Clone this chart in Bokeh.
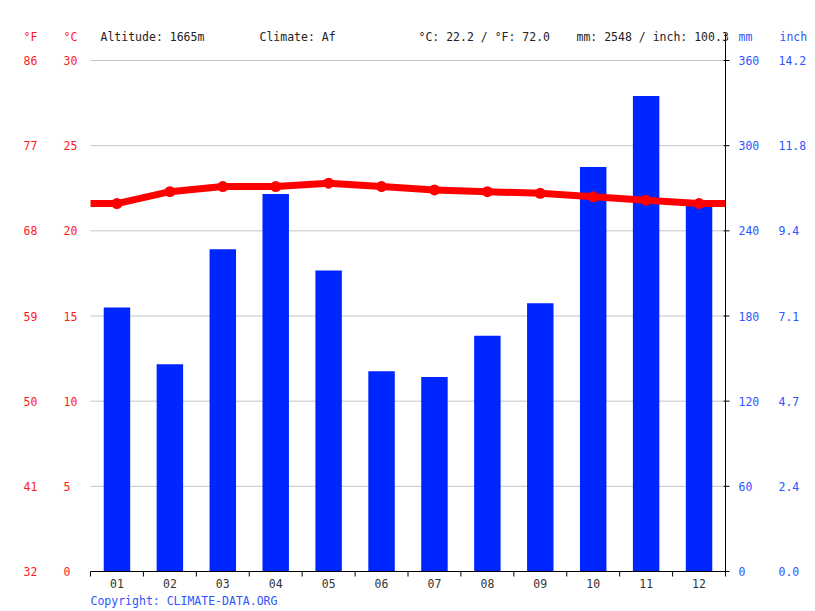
from bokeh.plotting import figure
from bokeh.models import Range1d
from bokeh.core.properties import value
from bokeh.embed import file_html
from bokeh.resources import INLINE
import numpy as np

# data
months = ["01", "02", "03", "04", "05", "06", "07", "08", "09", "10", "11", "12"]
temp_c = [21.6, 22.3, 22.6, 22.6, 22.8, 22.6, 22.4, 22.3, 22.2, 22.0, 21.8, 21.6]
precip_mm = [186, 146, 227, 266, 212, 141, 137, 166, 189, 285, 335, 258]

c_ticks = [0, 5, 10, 15, 20, 25, 30]
f_labels = ["32", "41", "50", "59", "68", "77", "86"]
mm_ticks = [0, 60, 120, 180, 240, 300, 360]
inch_labels = ["0.0", "2.4", "4.7", "7.1", "9.4", "11.8", "14.2"]

header_left = ["°F", "°C"]
header_mid = ["Altitude: 1665m", "Climate: Af", "°C: 22.2 / °F: 72.0", "mm: 2548 / inch: 100.3"]
header_right = ["mm", "inch"]
copyright = "Copyright: CLIMATE-DATA.ORG"

MONO = value("DejaVu Sans Mono")
RED = "#ff1a1a"
BLUE = "#2e55ff"
FS = value("11.5px")

# canvas size and plot box (pixels)
W, H = 815, 611
PL, PR, PT, PB = 90, 725, 60, 571
sx = (PR - PL) / 12.0        # px per month
sy = (PB - PT) / 30.0        # px per degC

p = figure(width=W, height=H, min_border=0,
           x_range=Range1d(-PL / sx, 12 + (W - PR) / sx),
           y_range=Range1d(-(H - PB) / sy, 30 + PT / sy),
           x_axis_location=None, y_axis_location=None,
           output_backend="svg", toolbar_location=None)
p.outline_line_color = None
p.grid.visible = False
ymin, ymax = p.y_range.start, p.y_range.end
p.extra_y_ranges = {"mm": Range1d(ymin * 12, ymax * 12)}

def px_x(px):   # canvas x pixel -> month units
    return (px - PL) / sx

def px_y(px):   # canvas y pixel -> degC units
    return (PB - px) / sy

xc = np.arange(len(months)) + 0.5

# horizontal grid
p.segment(x0=0, x1=12, y0=c_ticks, y1=c_ticks, line_color="#c4c4c4", line_width=1)

# bars (mm)
p.vbar(x=xc, top=precip_mm, width=0.5, y_range_name="mm",
       fill_color="#0026ff", line_color=None)

# temperature line, flat out to the plot edges
lx = np.concatenate([[0], xc, [12]])
ly = [temp_c[0]] + temp_c + [temp_c[-1]]
p.line(lx, ly, line_color="#ff0000", line_width=7)
p.scatter(xc, temp_c, size=11, fill_color="#ff0000", line_color=None)

# x axis: line, ticks between months, labels under months
edges = np.arange(13)
p.segment(x0=0, x1=px_x(727), y0=0, y1=0, line_color="black", line_width=1)
p.segment(x0=edges, x1=edges, y0=0, y1=px_y(PB + 5), line_color="black", line_width=1)
p.text(x=xc, y=px_y(583), text=months, text_font=MONO, text_font_size=FS,
       text_color="#333333", text_align="center", text_baseline="middle")

# right mm axis
p.segment(x0=12, x1=12, y0=px_y(575), y1=px_y(33), line_color="black", line_width=1)
p.segment(x0=px_x(PR - 2), x1=px_x(PR + 4), y0=mm_ticks, y1=mm_ticks,
          y_range_name="mm", line_color="black", line_width=1)
p.text(x=px_x(738), y=mm_ticks, text=[str(t) for t in mm_ticks], y_range_name="mm",
       text_font=MONO, text_font_size=FS, text_color=BLUE, text_baseline="middle")
p.text(x=px_x(778), y=mm_ticks, text=inch_labels, y_range_name="mm",
       text_font=MONO, text_font_size=FS, text_color=BLUE, text_baseline="middle")

# left degC / degF labels
p.text(x=px_x(63), y=c_ticks, text=[str(t) for t in c_ticks],
       text_font=MONO, text_font_size=FS, text_color=RED, text_baseline="middle")
p.text(x=px_x(23), y=c_ticks, text=f_labels,
       text_font=MONO, text_font_size=FS, text_color=RED, text_baseline="middle")

# header row
hy = px_y(36)
p.text(x=[px_x(23), px_x(63)], y=[hy, hy], text=header_left, text_font=MONO,
       text_font_size=FS, text_color=RED, text_baseline="middle")
p.text(x=[px_x(100), px_x(259), px_x(418), px_x(576)], y=[hy] * 4, text=header_mid,
       text_font=MONO, text_font_size=FS, text_color="#222222", text_baseline="middle")
p.text(x=[px_x(738), px_x(779)], y=[hy, hy], text=header_right, text_font=MONO,
       text_font_size=FS, text_color=BLUE, text_baseline="middle")

p.text(x=[0], y=[px_y(600)], text=[copyright], text_font=MONO,
       text_font_size=FS, text_color=BLUE, text_baseline="middle")

open("out.html", "w").write(file_html(p, INLINE))
